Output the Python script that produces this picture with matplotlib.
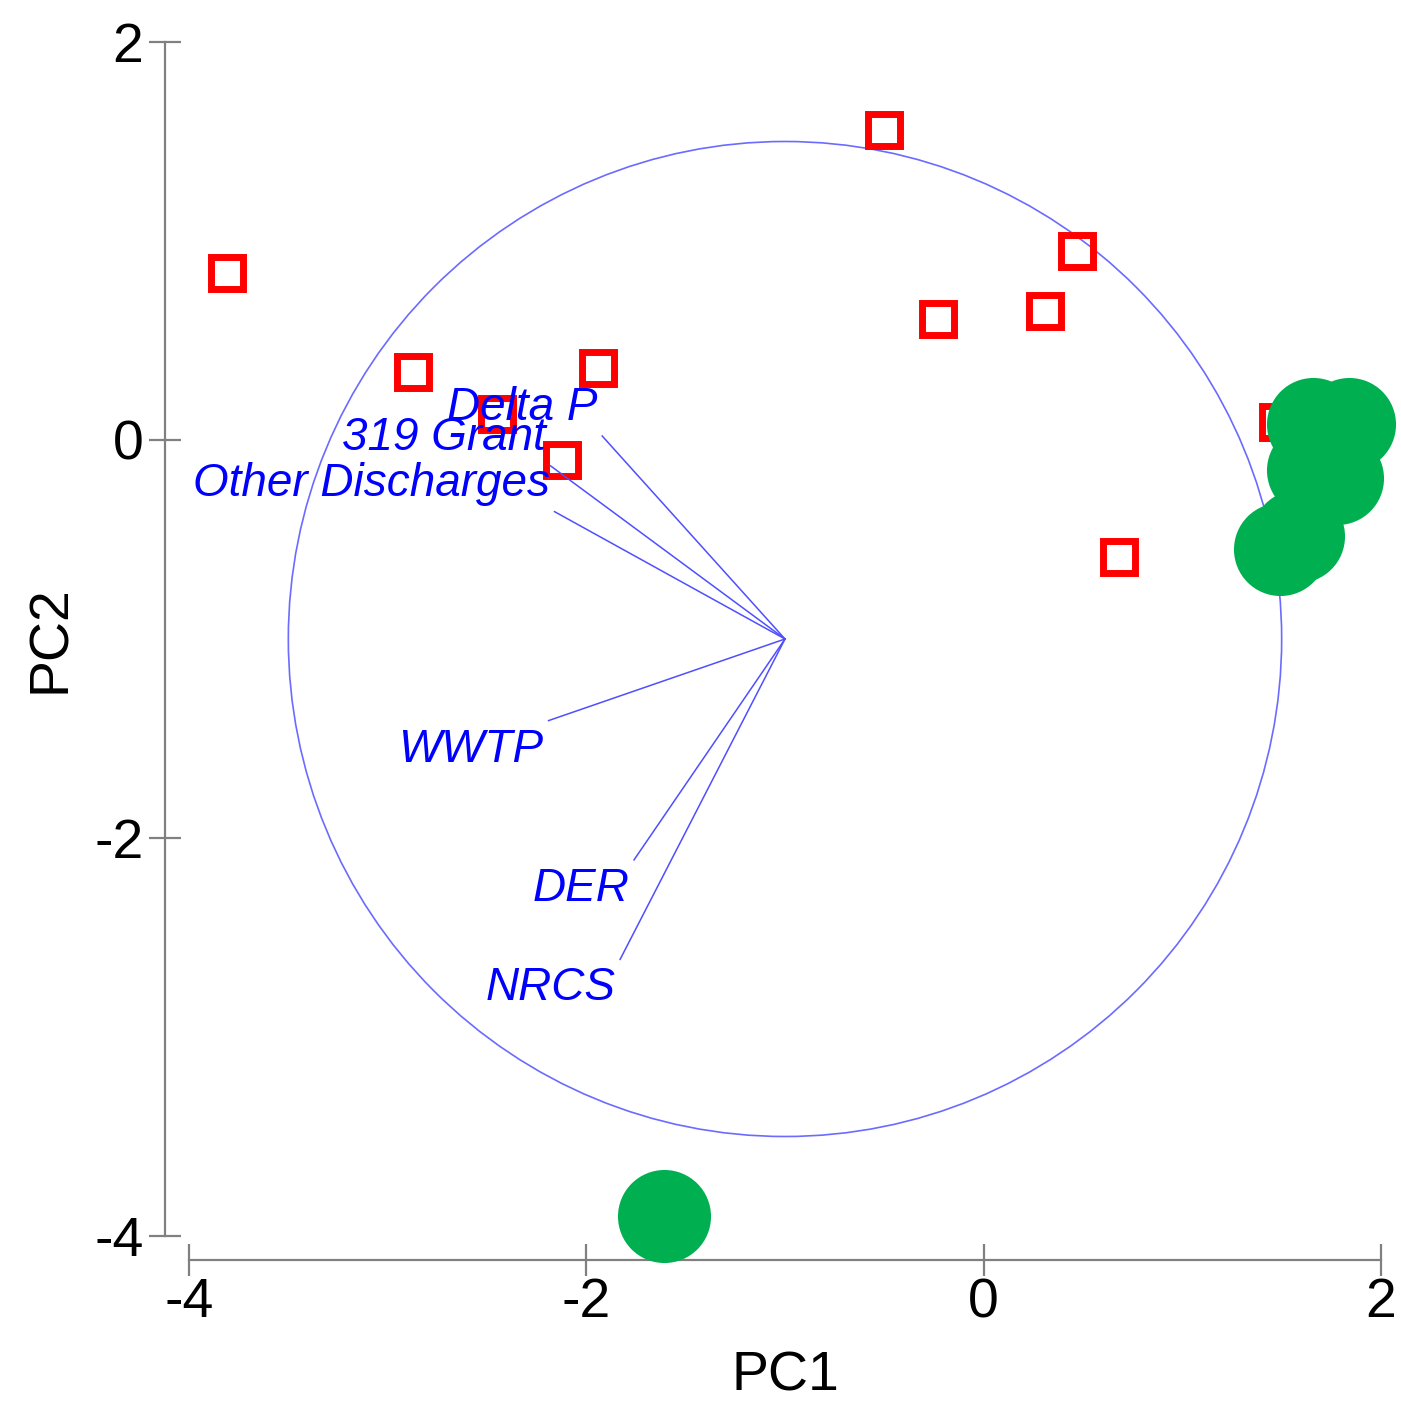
import numpy as np
import matplotlib.pyplot as plt
from matplotlib.patches import Circle

# =========================
# Data
# =========================
group1_x = [-3.81, -2.87, -1.94, -2.45, -2.12, -0.50, 0.47, -0.23, 0.31, 0.68, 1.48]
group1_y = [0.84, 0.34, 0.36, 0.13, -0.10, 1.56, 0.95, 0.61, 0.65, -0.59, 0.09]

group2_x = [-1.61, 1.49, 1.58, 1.66, 1.84, 1.66, 1.78]
group2_y = [-3.90, -0.55, -0.48, 0.08, 0.08, -0.15, -0.19]

vec_names = ["Delta P", "319 Grant", "Other Discharges", "WWTP", "DER", "NRCS"]
vec_x = [-1.92, -2.18, -2.16, -2.19, -1.76, -1.83]
vec_y = [0.02, -0.13, -0.36, -1.41, -2.11, -2.61]

origin = (-1.0, -1.0)
circle_radius = 2.5

ticks = [-4, -2, 0, 2]

# =========================
# Plot
# =========================
plt.rcParams['font.family'] = ['Liberation Sans', 'DejaVu Sans']
plt.rcParams['axes.unicode_minus'] = False

fig = plt.figure(figsize=(14.01, 14.04), dpi=100)
W, H = 1401, 1404
ax = fig.add_axes([189 / W, 1 - 1236 / H, (1381 - 189) / W, (1236 - 42) / H])

ax.add_patch(Circle(origin, circle_radius, fill=False, edgecolor="#6b6bff",
                    linewidth=1.2, zorder=1))

ax.plot(group1_x, group1_y, linestyle="none", marker="s", markersize=23,
        markerfacecolor="none", markeredgecolor="#ff0000", markeredgewidth=5,
        zorder=2, clip_on=False)

ax.plot(group2_x, group2_y, linestyle="none", marker="o", markersize=67,
        markerfacecolor="#00b050", markeredgecolor="none", zorder=3, clip_on=False)

for name, vx, vy in zip(vec_names, vec_x, vec_y):
    ax.plot([origin[0], vx], [origin[1], vy], color="#4f4fff", linewidth=1.1, zorder=4)
    dy = 16 if vy > origin[1] else -41
    ax.annotate(name, (vx, vy), xytext=(-5, dy), textcoords="offset pixels",
                ha="right", va="baseline", fontsize=33, fontstyle="italic",
                color="#0000ff", zorder=5)

ax.set_xlim(-4, 2)
ax.set_ylim(-4, 2)
ax.set_xticks(ticks)
ax.set_yticks(ticks)

for side in ["top", "right"]:
    ax.spines[side].set_visible(False)
for side in ["left", "bottom"]:
    ax.spines[side].set_position(("outward", 17.3))
    ax.spines[side].set_color("#808080")
    ax.spines[side].set_linewidth(1.6)
ax.spines["left"].set_bounds(-4, 2)
ax.spines["bottom"].set_bounds(-4, 2)

ax.tick_params(direction="inout", length=23, width=1.6, color="#808080",
               labelsize=40, labelcolor="black")
ax.tick_params(axis="y", pad=4)
ax.tick_params(axis="x", pad=1)

ax.set_xlabel("PC1", fontsize=40, labelpad=15)
ax.set_ylabel("PC2", fontsize=40, labelpad=12)

fig.savefig("out.png", dpi=100)
